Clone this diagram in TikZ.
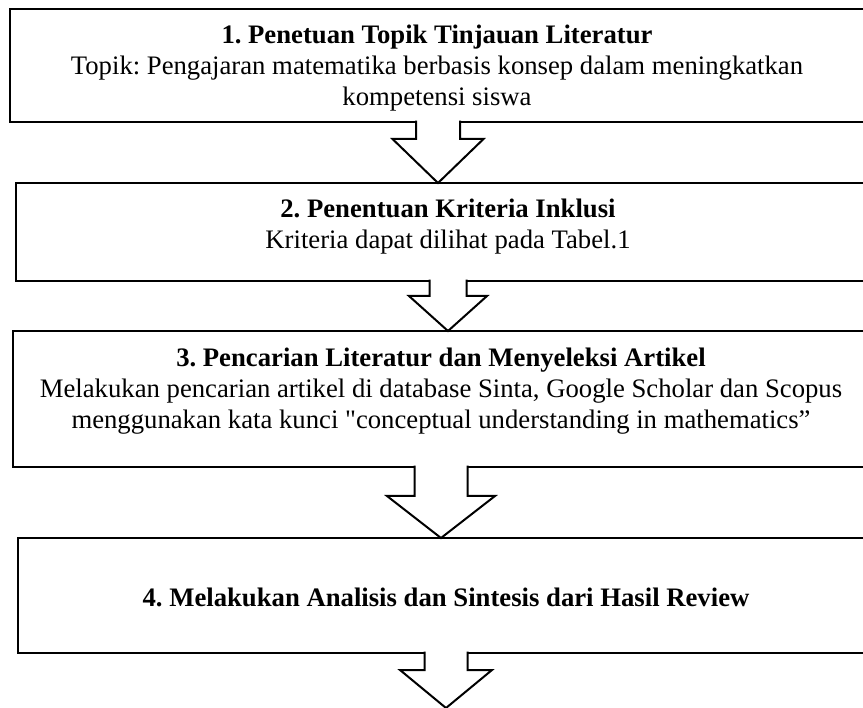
\documentclass[tikz,border=0pt]{standalone}
\usepackage{fontspec}
\setmainfont{Liberation Serif}[Ligatures=TeXOff]
\usetikzlibrary{calc}
\tikzset{
  stepbox/.style={draw=black, line width=2.6pt, fill=white, inner sep=0pt, outer sep=0pt},
  txt/.style={align=center, font=\fontsize{26.7}{31}\selectfont, inner sep=0pt},
  arrowline/.style={draw=black, line width=2pt, line join=miter},
}
\newcommand\blockarrow[5]{%
  \fill[white] ($(#1)+(-#3,1.4)$) -- ($(#1)+(-#3,-#4)$) -- ($(#1)+(-#5,-#4)$) -- (#2) -- ($(#1)+(#5,-#4)$) -- ($(#1)+(#3,-#4)$) -- ($(#1)+(#3,1.4)$) -- cycle;
  \draw[arrowline] ($(#1)+(-#3,1.3)$) -- ($(#1)+(-#3,-#4)$) -- ($(#1)+(-#5,-#4)$) -- (#2) -- ($(#1)+(#5,-#4)$) -- ($(#1)+(#3,-#4)$) -- ($(#1)+(#3,1.3)$);
}
\begin{document}
\frenchspacing
\begin{tikzpicture}[x=1pt,y=1pt]
\useasboundingbox (0,0) rectangle (863,-708);
\fill[white] (0,0) rectangle (863,-708);
\clip (0,0) rectangle (863,-708);
% boxes
\node[stepbox, minimum width=856pt, minimum height=113pt] (b1) at (438,-65.5) {};
\node[stepbox, minimum width=864pt, minimum height=98pt] (b2) at (448,-232) {};
\node[stepbox, minimum width=856pt, minimum height=136pt] (b3) at (441,-399) {};
\node[stepbox, minimum width=856pt, minimum height=115pt] (b4) at (446,-595.5) {};
\coordinate (end) at (446,-708);
% texts
\node[txt] (t1) at (437,-68) {\textbf{1. Penetuan Topik Tinjauan Literatur}\\Topik: Pengajaran matematika berbasis konsep dalam meningkatkan\\kompetensi siswa};
\node[txt] (t2) at (448,-227) {\textbf{2. Penentuan Kriteria Inklusi}\\Kriteria dapat dilihat pada Tabel.1};
\node[txt] (t3) at (441,-391.5) {\textbf{3. Pencarian Literatur dan Menyeleksi Artikel}\\Melakukan pencarian artikel di database Sinta, Google Scholar dan Scopus\\menggunakan kata kunci "conceptual understanding in mathematics”};
\node[txt] (t4) at (446,-597) {\textbf{4. Melakukan Analisis dan Sintesis dari Hasil Review}};
% arrows
\blockarrow{b1.south}{b1.south |- b2.north}{22}{17}{45.5}
\blockarrow{b2.south}{b2.south |- b3.north}{18.5}{15}{39}
\blockarrow{b3.south}{b3.south |- b4.north}{26.5}{29}{54}
\blockarrow{b4.south}{end}{21.5}{17}{46}
\end{tikzpicture}
\end{document}
